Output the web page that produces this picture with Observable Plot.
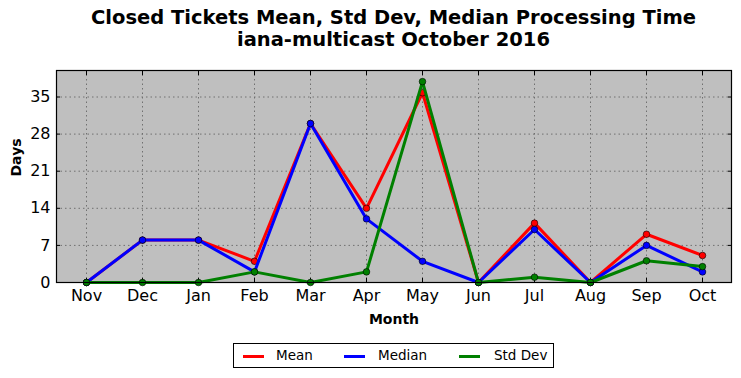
<!DOCTYPE html>
<html>
<head>
<meta charset="utf-8">
<script src="https://cdn.jsdelivr.net/npm/d3@7"></script>
<script src="https://cdn.jsdelivr.net/npm/@observablehq/plot@0.6"></script>
<style>
  body { margin: 0; background: #fff; font-family: "DejaVu Sans", sans-serif; }
  #wrap { position: relative; width: 741px; height: 378px; }
  #title { position: absolute; left: 46px; top: 7px; width: 695px; text-align: center;
           font-weight: bold; font-size: 19.5px; line-height: 22px; color: #000; }
  #chart { position: absolute; left: 0; top: 58px; }
  #legend { position: absolute; left: 233px; top: 343px; width: 319px; height: 23px;
            border: 1px solid #000; background: #fff; font-size: 13.5px; }
  .item { position: absolute; top: 0; height: 23px; line-height: 23px; }
  .sw { position: absolute; top: 11px; width: 21px; height: 3px; }
</style>
</head>
<body>
<div id="wrap">
  <div id="title">Closed Tickets Mean, Std Dev, Median Processing Time<br>iana-multicast October 2016</div>
  <div id="chart"></div>
  <div id="legend"></div>
</div>
<script>
const months = ["Nov","Dec","Jan","Feb","Mar","Apr","May","Jun","Jul","Aug","Sep","Oct"];
const meanVals   = [0, 8, 8, 4, 30, 14, 35.8, 0, 11.2, 0, 9.1, 5.1];
const medianVals = [0, 8, 8, 2, 30, 12, 4, 0, 10, 0, 7, 2];
const stdVals    = [0, 0, 0, 2, 0, 2, 37.9, 0, 1, 0, 4.1, 3];
const seriesNames = ["Mean", "Median", "Std Dev"];
const seriesColors = ["#ff0000", "#0000ff", "#008000"];
const yTicks = [0, 7, 14, 21, 28, 35];

const seriesVals = [meanVals, medianVals, stdVals];
const data = [];
seriesNames.forEach((s, k) => months.forEach((m, i) => data.push({series: s, month: m, value: seriesVals[k][i]})));

const lineMarks = seriesNames.flatMap((s, k) => {
  const d = data.filter(r => r.series === s);
  return [
    Plot.line(d, {x: "month", y: "value", stroke: seriesColors[k], strokeWidth: 3, strokeLinejoin: "round"}),
    Plot.dot(d, {x: "month", y: "value", fill: seriesColors[k], stroke: "#000", strokeWidth: 0.6, r: 3.3})
  ];
});

const chart = Plot.plot({
  width: 741,
  height: 280,
  marginLeft: 56,
  marginRight: 10,
  marginTop: 12,
  marginBottom: 56,
  style: {fontFamily: "DejaVu Sans, sans-serif", background: "transparent", color: "#000"},
  x: {type: "point", domain: months, padding: 0.5},
  y: {domain: [0, 40]},
  marks: [
    Plot.frame({fill: "#bfbfbf"}),
    Plot.gridX(months, {stroke: "#707070", strokeOpacity: 1, strokeDasharray: "1.5,3", strokeWidth: 1}),
    Plot.gridY(yTicks, {stroke: "#707070", strokeOpacity: 1, strokeDasharray: "1.5,3", strokeWidth: 1}),
    Plot.axisX(months, {tickSize: 0, tickPadding: 7, fontSize: 16, label: null}),
    Plot.axisY(yTicks, {tickSize: 0, tickPadding: 6, fontSize: 16, label: null}),
    Plot.axisX(months, {tickSize: -4, text: null, label: null}),
    Plot.axisX(months, {anchor: "top", tickSize: -4, text: null, label: null}),
    Plot.axisY(yTicks, {tickSize: -4, text: null, label: null}),
    Plot.axisY(yTicks, {anchor: "right", tickSize: -4, text: null, label: null}),
    Plot.text(["Month"], {frameAnchor: "bottom", dy: 41, fontSize: 14, fontWeight: "bold"}),
    Plot.text(["Days"], {frameAnchor: "left", dx: -40, rotate: -90, fontSize: 14, fontWeight: "bold"}),
    ...lineMarks,
    Plot.frame({stroke: "#000", strokeWidth: 1.2})
  ]
});
document.getElementById("chart").appendChild(chart);

const legend = document.getElementById("legend");
const pos = [[9, 42], [110, 144], [225, 260]];
seriesNames.forEach((s, k) => {
  const sw = document.createElement("div");
  sw.className = "sw"; sw.style.left = pos[k][0] + "px"; sw.style.background = seriesColors[k];
  legend.appendChild(sw);
  const t = document.createElement("div");
  t.className = "item"; t.style.left = pos[k][1] + "px"; t.textContent = s;
  legend.appendChild(t);
});
</script>
</body>
</html>
